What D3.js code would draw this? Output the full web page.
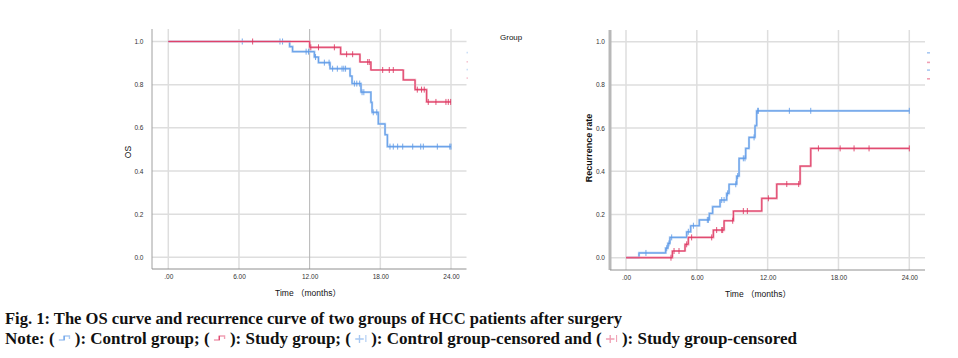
<!DOCTYPE html>
<html><head><meta charset="utf-8">
<script src="https://cdn.jsdelivr.net/npm/d3@7"></script>
<style>
html,body{margin:0;padding:0;background:#fff;}
svg{display:block;}
</style></head>
<body>
<svg id="c" width="958" height="358"></svg>
<script>
// ---------- DATA ----------
const xTicks = [0, 6, 12, 18, 24];
const xTickLabels = [".00", "6.00", "12.00", "18.00", "24.00"];
const yTicks = [0, 0.2, 0.4, 0.6, 0.8, 1.0];
const yTickLabels = ["0.0", "0.2", "0.4", "0.6", "0.8", "1.0"];

// OS curve, control group: [time, survival] change points
const osControlSteps = [[0,1.0],[10.3,0.976],[10.55,0.953],[12.4,0.928],[12.75,0.902],[13.73,0.874],[15.43,0.84],[15.6,0.805],[16.36,0.765],[17.2,0.718],[17.3,0.672],[17.83,0.618],[18.4,0.568],[18.6,0.513]];
const osControlCensor = [6.28,9.48,9.7,11.7,11.9,12.5,13.25,13.65,13.95,14.35,14.75,14.9,15.05,15.8,16.0,16.25,16.45,16.6,17.4,17.7,18.82,19.1,19.47,19.9,20.75,21.43,21.65,22.84,23.9,24.0];
// OS curve, study group
const osStudySteps = [[0,1.0],[12.0,0.973],[14.63,0.941],[16.27,0.905],[17.2,0.868],[19.95,0.822],[20.95,0.777],[21.93,0.72]];
const osStudyCensor = [7.16,12.1,12.75,14.1,15.14,15.65,16.93,17.06,18.2,18.76,19.1,21.14,21.5,21.73,22.07,22.72,23.57,23.77,23.97];

// Recurrence curve, control group
const recControlSteps = [[0,0],[1.1,0.022],[3.36,0.044],[3.55,0.066],[3.72,0.094],[5.14,0.12],[5.48,0.148],[6.21,0.175],[7.06,0.205],[7.34,0.236],[7.97,0.267],[8.53,0.298],[8.73,0.34],[9.38,0.378],[9.58,0.46],[10.14,0.506],[10.42,0.557],[10.93,0.611],[11.07,0.68]];
const recControlCensor = [1.69,3.45,3.64,3.87,5.28,5.71,6.89,6.98,8.11,8.31,8.61,9.3,9.46,9.94,10.08,10.85,11.16,11.21,13.84,15.65,24.0];
// Recurrence curve, study group
const recStudySteps = [[0,0],[3.93,0.031],[5.0,0.062],[5.28,0.094],[7.4,0.128],[8.31,0.171],[9.1,0.216],[11.5,0.275],[12.77,0.341],[14.75,0.424],[15.65,0.506]];
const recStudyCensor = [3.81,4.07,4.49,5.14,5.56,7.26,7.68,8.11,8.19,9.04,9.94,10.28,12.06,13.62,14.63,16.3,18.14,19.32,20.59,24.0];

const maxTime = 24;
const legendTitle = "Group";
const xTitle = "Time （months）";
const caption1 = "Fig. 1: The OS curve and recurrence curve of two groups of HCC patients after surgery";
const caption2Parts = ["Note: (", "): Control group; (", "): Study group; (", "): Control group-censored and (", "): Study group-censored"];

// ---------- STYLE ----------
const BLUE = "#5f9be8", RED = "#de3762";
const BLUE_L = "#a9c9f2", RED_L = "#f0a0b4";
const GRID = "#dedede";

const svg = d3.select("#c");

function valueAt(steps, t){
  let v = steps[0][1];
  for (const s of steps) if (s[0] <= t) v = s[1];
  return v;
}

function drawPanel(o){
  const g = svg.append("g");
  const x = d3.scaleLinear().domain([0,24]).range(o.xr);
  const y = d3.scaleLinear().domain([0,1]).range(o.yr);
  g.selectAll(".hg").data(yTicks).join("line")
    .attr("x1", o.left).attr("x2", o.right)
    .attr("y1", d=>y(d)).attr("y2", d=>y(d))
    .attr("stroke", GRID).attr("stroke-width", 1.5);
  g.selectAll(".vg").data(xTicks).join("line")
    .attr("x1", d=>x(d)).attr("x2", d=>x(d))
    .attr("y1", o.top).attr("y2", o.bottom)
    .attr("stroke", d => (o.darkMid && d===12) ? "#b4b4b4" : GRID)
    .attr("stroke-width", d => (o.darkMid && d===12) ? 1 : 1.5);
  g.append("line").attr("x1", o.left).attr("x2", o.left).attr("y1", o.top).attr("y2", o.bottom)
    .attr("stroke", o.thickAxis ? "#b8b8b8" : "#a0a0a0").attr("stroke-width", o.thickAxis ? 3 : 1);
  g.append("line").attr("x1", o.left).attr("x2", o.right).attr("y1", o.bottom).attr("y2", o.bottom)
    .attr("stroke", "#909090").attr("stroke-width", 1);

  const ya = d3.axisLeft(y).tickValues(yTicks).tickSize(0).tickPadding(0)
    .tickFormat((d,i)=>yTickLabels[i]);
  const yg = g.append("g").attr("transform", `translate(${o.yLabelX},0)`).call(ya);
  yg.select(".domain").remove();
  yg.selectAll("text").attr("font-family","Liberation Sans, Arial, sans-serif").attr("font-size",6.5).attr("fill","#333");
  const xa = d3.axisBottom(x).tickValues(xTicks).tickSize(0).tickPadding(0)
    .tickFormat((d,i)=>xTickLabels[i]);
  const xg = g.append("g").attr("transform", `translate(0,${o.xLabelY})`).call(xa);
  xg.select(".domain").remove();
  xg.selectAll("text").attr("font-family","Liberation Sans, Arial, sans-serif").attr("font-size",6.5).attr("fill","#333");

  g.append("text").attr("x", o.xTitleX).attr("y", o.xTitleY).attr("text-anchor","middle")
    .attr("font-family","Liberation Sans, 'Noto Sans CJK SC', Arial, sans-serif").attr("font-size",8.5).attr("fill","#111")
    .text(xTitle);
  g.append("text").attr("transform", `translate(${o.yTitleX},${o.yTitleY}) rotate(-90)`).attr("text-anchor","middle")
    .attr("font-family","Liberation Sans, Arial, sans-serif").attr("font-size",o.yTitleSize).attr("fill","#111")
    .attr("font-weight", o.yTitleBold ? "bold" : "normal")
    .text(o.yTitle);

  const line = d3.line().x(d=>x(d[0])).y(d=>y(d[1])).curve(d3.curveStepAfter);
  for (const s of o.series){
    const pts = s.steps.concat([[maxTime, s.steps[s.steps.length-1][1]]]);
    g.append("path").attr("d", line(pts)).attr("fill","none")
      .attr("stroke", s.light).attr("stroke-width", 2.2);
    g.append("path").attr("d", line(pts)).attr("fill","none")
      .attr("stroke", s.color).attr("stroke-width", 1).attr("opacity",0.9);
    g.selectAll(null).data(s.censor).join("line")
      .attr("x1", d=>x(d)).attr("x2", d=>x(d))
      .attr("y1", d=>y(valueAt(s.steps,d))-3).attr("y2", d=>y(valueAt(s.steps,d))+3)
      .attr("stroke", s.color).attr("stroke-width", 1).attr("opacity",0.85);
  }
  const lg = [BLUE_L, RED_L, BLUE_L, RED_L];
  g.selectAll(".lm").data(lg).join("rect")
    .attr("x", o.legX).attr("y", (d,i)=>o.legY[i]-0.7).attr("width", o.legW).attr("height", 1.6)
    .attr("fill", d=>d).attr("opacity", o.legOp);
}

drawPanel({
  xr:[168.3,451], yr:[257.3,41.5], left:152, right:466.5, top:29, bottom:269,
  darkMid:true, thickAxis:false, yLabelX:143.5, xLabelY:274,
  xTitleX:308, xTitleY:296, yTitleX:131, yTitleY:152, yTitle:"OS", yTitleBold:false, yTitleSize:8.5,
  series:[
    {steps:osControlSteps, censor:osControlCensor, color:BLUE, light:BLUE_L},
    {steps:osStudySteps, censor:osStudyCensor, color:RED, light:RED_L}
  ],
  legX:466.5, legY:[52.5,61.7,69.5,78], legW:1.5, legOp:0.6
});
drawPanel({
  xr:[626,909.3], yr:[257.7,41.7], left:610, right:925, top:30, bottom:270,
  darkMid:false, thickAxis:true, yLabelX:605, xLabelY:275,
  xTitleX:758, xTitleY:297, yTitleX:592, yTitleY:148, yTitle:"Recurrence rate", yTitleBold:true, yTitleSize:9,
  series:[
    {steps:recControlSteps, censor:recControlCensor, color:BLUE, light:BLUE_L},
    {steps:recStudySteps, censor:recStudyCensor, color:RED, light:RED_L}
  ],
  legX:927, legY:[52.7,62.3,70,78.7], legW:3, legOp:1
});

svg.append("text").attr("x",500).attr("y",40)
  .attr("font-family","Liberation Sans, Arial, sans-serif").attr("font-size",8).attr("fill","#111")
  .text(legendTitle);

// ---------- CAPTION ----------
const capFont = "'Liberation Serif', 'Times New Roman', serif";
const c1 = svg.append("text").attr("x",5).attr("y",324)
  .attr("font-family",capFont).attr("font-weight","bold").attr("font-size",16).attr("fill","#111")
  .text(caption1);
c1.attr("textLength", 617).attr("lengthAdjust","spacingAndGlyphs");

const g2 = svg.append("g");
let cx = 0;
const iconW = 19;
const icons = ["stepB","stepR","censB","censR"];
caption2Parts.forEach((p,i)=>{
  const t = g2.append("text").attr("x",cx).attr("y",0)
    .attr("font-family",capFont).attr("font-weight","bold").attr("font-size",16).attr("fill","#111")
    .text(p);
  cx += t.node().getComputedTextLength();
  if (i < icons.length){
    const ic = icons[i];
    const col = (ic==="stepB"||ic==="censB") ? BLUE_L : RED_L;
    const col2 = (ic==="stepB"||ic==="censB") ? BLUE : RED;
    const ig = g2.append("g").attr("transform",`translate(${cx},0)`);
    if (ic.startsWith("step")){
      ig.append("path").attr("d","M4,-4 H9 V-8 H14 V-5").attr("fill","none").attr("stroke",col).attr("stroke-width",1.3);
      ig.append("path").attr("d","M9,-4 V-8").attr("fill","none").attr("stroke",col2).attr("stroke-width",1);
    } else {
      ig.append("path").attr("d","M4,-5 H12 M8,-9 V-1").attr("stroke",col).attr("stroke-width",1.3);
      ig.append("path").attr("d","M14,-9 V-2").attr("stroke",col).attr("stroke-width",1);
    }
    cx += iconW;
  }
});
const sx = 792 / cx;
g2.attr("transform",`translate(5,344) scale(${sx},1)`);
</script>
</body></html>
